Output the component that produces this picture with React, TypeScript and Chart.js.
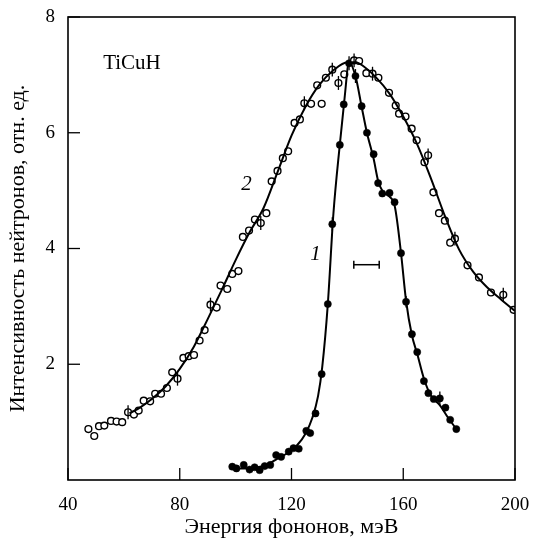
import React, { useEffect, useRef } from "react";
import { Chart, registerables } from "chart.js";

Chart.register(...registerables);

// Curve 2 (open circles): energy (meV), intensity
const openE = [47.3, 49.4, 51.1, 53.0, 55.4, 57.4, 59.4, 61.5, 63.6, 65.3, 67.1, 69.4, 71.2, 73.3, 75.4, 77.3, 79.2, 81.3, 83.2, 85.1, 87.1, 88.9, 91.0, 93.2, 94.6, 97.0, 98.8, 101.0, 102.6, 104.8, 106.9, 109.0, 111.0, 112.9, 115.0, 116.9, 118.8, 121.1, 123.0, 124.6, 127.0, 129.2, 130.8, 132.3, 134.6, 136.8, 138.9, 142.4, 144.2, 146.8, 149.0, 151.1, 154.9, 157.3, 158.5, 160.8, 163.0, 164.8, 167.6, 168.9, 170.8, 172.8, 174.9, 176.8, 178.5, 183.0, 187.1, 191.4, 195.8, 199.5];
const openI = [0.88, 0.76, 0.93, 0.94, 1.02, 1.01, 1.0, 1.17, 1.13, 1.2, 1.37, 1.36, 1.49, 1.49, 1.59, 1.86, 1.75, 2.11, 2.14, 2.16, 2.41, 2.59, 3.03, 2.98, 3.36, 3.3, 3.56, 3.61, 4.2, 4.31, 4.5, 4.44, 4.61, 5.16, 5.34, 5.56, 5.68, 6.17, 6.23, 6.51, 6.5, 6.82, 6.5, 6.95, 7.09, 6.86, 7.01, 7.25, 7.24, 7.03, 7.02, 6.95, 6.69, 6.47, 6.33, 6.28, 6.07, 5.87, 5.49, 5.61, 4.97, 4.61, 4.48, 4.1, 4.17, 3.71, 3.5, 3.24, 3.2, 2.94];
const openErr = [0, 0, 0, 0, 0, 0, 0, 0.12, 0, 0, 0, 0, 0, 0, 0, 0, 0.12, 0, 0, 0, 0, 0, 0.12, 0, 0, 0, 0, 0, 0, 0, 0, 0.12, 0, 0, 0, 0, 0, 0, 0, 0.12, 0, 0, 0, 0, 0.12, 0.12, 0, 0.12, 0, 0, 0.12, 0, 0, 0, 0, 0, 0, 0, 0, 0.12, 0, 0, 0, 0, 0.12, 0, 0, 0, 0.12, 0];

// Curve 1 (filled circles)
const filledE = [98.8, 100.3, 102.9, 105.0, 106.8, 108.6, 110.4, 112.4, 114.5, 116.3, 119.0, 120.7, 122.6, 125.3, 126.7, 128.6, 130.8, 133.0, 134.6, 137.3, 138.7, 140.6, 142.9, 145.1, 147.0, 149.4, 151.0, 152.5, 155.1, 156.9, 159.2, 161.0, 163.1, 165.0, 167.4, 169.0, 170.9, 173.1, 175.1, 176.8, 179.0];
const filledI = [0.23, 0.2, 0.26, 0.18, 0.22, 0.17, 0.24, 0.26, 0.43, 0.4, 0.49, 0.55, 0.54, 0.85, 0.81, 1.15, 1.83, 3.04, 4.42, 5.79, 6.49, 7.2, 6.98, 6.46, 6.0, 5.63, 5.13, 4.95, 4.96, 4.8, 3.92, 3.08, 2.52, 2.21, 1.71, 1.5, 1.4, 1.41, 1.25, 1.04, 0.88];
const filledErr = [0, 0, 0, 0, 0, 0, 0, 0, 0, 0, 0, 0, 0, 0, 0, 0, 0, 0, 0.12, 0, 0, 0.12, 0.12, 0, 0, 0, 0, 0, 0, 0, 0, 0.1, 0, 0, 0, 0, 0, 0.12, 0, 0, 0];

// Fitted solid curves
const fit2E = [62, 66, 70, 75, 80, 85, 90, 95, 100, 105, 110, 115, 120, 125, 130, 135, 140, 143, 146, 150, 155, 160, 165, 170, 175, 180, 185, 190, 195, 200];
const fit2I = [1.15, 1.26, 1.4, 1.62, 1.92, 2.3, 2.78, 3.28, 3.8, 4.28, 4.7, 5.32, 5.95, 6.45, 6.83, 7.08, 7.22, 7.22, 7.14, 6.97, 6.68, 6.28, 5.8, 5.2, 4.55, 3.98, 3.6, 3.33, 3.12, 2.92];
const fit1E = [99, 103, 107, 111, 115, 119, 122, 125, 127.5, 129.5, 131, 133, 135, 137.3, 139, 140.6, 142.9, 145.1, 147, 149.4, 151, 152.7, 155, 157, 159.2, 161, 163.1, 165, 167.4, 170, 173, 176, 179];
const fit1I = [0.2, 0.2, 0.21, 0.26, 0.37, 0.48, 0.6, 0.8, 1.08, 1.45, 1.95, 3.04, 4.6, 5.8, 6.6, 7.22, 6.98, 6.45, 6.0, 5.55, 5.17, 4.98, 4.9, 4.72, 3.92, 3.1, 2.5, 2.18, 1.75, 1.45, 1.3, 1.08, 0.88];

// Resolution bar
const resE = [142.3, 151.4];
const resI = [3.72, 3.72];

const xTicks = [40, 80, 120, 160, 200];
const yTicks = [2, 4, 6, 8];

const labels = [
  { text: "TiCuH", e: 62.9, v: 7.2, italic: false },
  { text: "2", e: 103.9, v: 5.11, italic: true },
  { text: "1", e: 128.6, v: 3.89, italic: true },
];

const SERIF = "'Liberation Serif', 'DejaVu Serif', serif";

const pts = (xs: number[], ys: number[]) => xs.map((x, i) => ({ x, y: ys[i] }));

const framePlugin = {
  id: "frame",
  afterDatasetsDraw(chart: any) {
    const { ctx, chartArea: a, scales } = chart;
    const xs = scales.x;
    const ys = scales.y;
    ctx.save();
    const drawErr = (es: number[], is: number[], errs: number[]) => {
      ctx.strokeStyle = "#000";
      ctx.lineWidth = 1.3;
      es.forEach((e, i) => {
        if (!errs[i]) return;
        const px = xs.getPixelForValue(e);
        ctx.beginPath();
        ctx.moveTo(px, ys.getPixelForValue(is[i] + errs[i]));
        ctx.lineTo(px, ys.getPixelForValue(is[i] - errs[i]));
        ctx.stroke();
      });
    };
    drawErr(openE, openI, openErr);
    drawErr(filledE, filledI, filledErr);
    ctx.strokeStyle = "#000";
    ctx.lineWidth = 1.6;
    ctx.strokeRect(a.left, a.top, a.right - a.left, a.bottom - a.top);
    ctx.lineWidth = 1.3;
    xTicks.forEach((t) => {
      const px = xs.getPixelForValue(t);
      ctx.beginPath();
      ctx.moveTo(px, a.bottom);
      ctx.lineTo(px, a.bottom - 12);
      ctx.stroke();
    });
    yTicks.forEach((t) => {
      const py = ys.getPixelForValue(t);
      ctx.beginPath();
      ctx.moveTo(a.left, py);
      ctx.lineTo(a.left + 12, py);
      ctx.stroke();
    });
    ctx.fillStyle = "#000";
    ctx.textAlign = "center";
    ctx.textBaseline = "middle";
    labels.forEach((l) => {
      ctx.font = `${l.italic ? "italic " : ""}21px ${SERIF}`;
      ctx.fillText(l.text, xs.getPixelForValue(l.e), ys.getPixelForValue(l.v));
    });
    ctx.restore();
  },
};

export default function App() {
  const ref = useRef<HTMLCanvasElement | null>(null);

  useEffect(() => {
    if (!ref.current) return;
    const chart = new Chart(ref.current, {
      type: "scatter",
      data: {
        datasets: [
          {
            label: "fit2",
            data: pts(fit2E, fit2I),
            showLine: true,
            borderColor: "#000",
            borderWidth: 2,
            pointRadius: 0,
            cubicInterpolationMode: "monotone",
          } as any,
          {
            label: "fit1",
            data: pts(fit1E, fit1I),
            showLine: true,
            borderColor: "#000",
            borderWidth: 2,
            pointRadius: 0,
            cubicInterpolationMode: "monotone",
          } as any,
          {
            label: "open",
            data: pts(openE, openI),
            showLine: false,
            pointRadius: 3.4,
            pointBorderWidth: 1.4,
            borderColor: "#000",
            pointBorderColor: "#000",
            pointBackgroundColor: "#fff",
            backgroundColor: "#fff",
          },
          {
            label: "filled",
            data: pts(filledE, filledI),
            showLine: false,
            pointRadius: 3.6,
            pointBorderWidth: 0.5,
            borderColor: "#000",
            pointBorderColor: "#000",
            pointBackgroundColor: "#000",
            backgroundColor: "#000",
          },
          {
            label: "res",
            data: pts(resE, resI),
            showLine: true,
            borderColor: "#000",
            borderWidth: 1.5,
            pointStyle: "line",
            pointRotation: 90,
            pointRadius: 4,
            pointBorderWidth: 1.5,
            pointBorderColor: "#000",
          } as any,
        ],
      },
      options: {
        animation: false,
        responsive: true,
        maintainAspectRatio: false,
        layout: { padding: { left: 0, right: 18, top: 17, bottom: 0 } },
        plugins: { legend: { display: false }, tooltip: { enabled: false } },
        scales: {
          x: {
            type: "linear",
            min: 40,
            max: 200,
            afterBuildTicks: (s: any) => {
              s.ticks = xTicks.map((v) => ({ value: v }));
            },
            afterFit: (s: any) => {
              s.height = 60;
              s.paddingLeft = 0;
              s.paddingRight = 0;
            },
            grid: { display: false, drawTicks: false },
            border: { display: false },
            ticks: {
              color: "#000",
              padding: 14,
              font: { family: SERIF, size: 19 },
              maxRotation: 0,
            },
            title: {
              display: true,
              text: "Энергия фононов, мэВ",
              color: "#000",
              font: { family: SERIF, size: 22 },
              padding: { top: 0, bottom: 0 },
            },
          },
          y: {
            type: "linear",
            min: 0,
            max: 8,
            afterBuildTicks: (s: any) => {
              s.ticks = yTicks.map((v) => ({ value: v }));
            },
            afterFit: (s: any) => {
              s.width = 68;
              s.paddingTop = 0;
              s.paddingBottom = 0;
            },
            grid: { display: false, drawTicks: false },
            border: { display: false },
            ticks: {
              color: "#000",
              padding: 13,
              font: { family: SERIF, size: 19 },
            },
            title: {
              display: true,
              text: "Интенсивность нейтронов, отн. ед.",
              color: "#000",
              font: { family: SERIF, size: 22 },
              padding: { top: 5, bottom: 0 },
            },
          },
        },
      },
      plugins: [framePlugin],
    });
    return () => chart.destroy();
  }, []);

  return (
    <div style={{ position: "fixed", left: 0, top: 0, width: 533, height: 540, background: "#fff" }}>
      <canvas ref={ref} />
    </div>
  );
}
